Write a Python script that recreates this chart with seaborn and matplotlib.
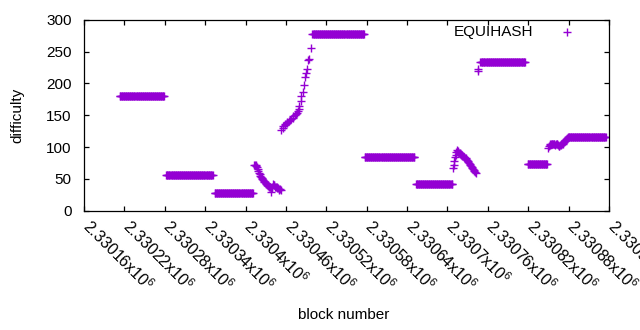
import numpy as np
import pandas as pd
import matplotlib
matplotlib.use("Agg")
import matplotlib.pyplot as plt
from matplotlib.ticker import FixedLocator
import matplotlib.transforms as mtrans
import seaborn as sns

# --- data ---
# plateaus: blocks where difficulty stayed constant
plateau_start = [2330213, 2330282, 2330354, 2330499, 2330577, 2330653, 2330749, 2330819, 2330880]
plateau_end = [2330279, 2330351, 2330411, 2330576, 2330651, 2330707, 2330815, 2330848, 2330935]
plateau_level = [180, 56, 28, 278, 85, 42, 233, 73, 115]

decay_blocks = list(range(2330413, 2330453))
decay_values = [72, 71, 70, 72, 68, 66, 63, 60, 57, 55, 53, 51, 50, 48, 46, 45, 45, 43, 42, 41,
                40, 39, 38, 38, 37, 30, 36, 38, 42, 41, 40, 38, 37, 38, 36, 35, 34, 33, 34, 32]

rise_blocks = [2330453, 2330455, 2330456, 2330458, 2330459, 2330461, 2330462, 2330464, 2330466,
               2330468, 2330470, 2330471, 2330473, 2330475, 2330476, 2330478, 2330479, 2330480,
               2330482, 2330483, 2330485, 2330487, 2330489, 2330490, 2330491, 2330493, 2330494,
               2330497]
rise_values = [127, 130, 133, 135, 136, 138, 140, 141, 142, 144, 146, 148, 150, 152, 153, 156,
               160, 165, 173, 180, 186, 198, 210, 216, 223, 237, 238, 256]

hump_blocks = list(range(2330708, 2330743))
hump_values = [67, 72, 78, 84, 88, 92, 95, 93, 92, 91, 90, 89, 88, 87, 86, 86, 85, 84, 83, 82,
               81, 80, 78, 76, 75, 73, 72, 70, 69, 67, 66, 64, 62, 61, 60]

jump_blocks = [2330745, 2330746]
jump_values = [219, 222]

wiggle_blocks = list(range(2330850, 2330880))
wiggle_values = [99, 101, 103, 104, 105, 104, 105, 104, 105, 104, 103, 104, 105, 104, 103, 102,
                 101, 103, 104, 103, 104, 105, 106, 108, 110, 111, 112, 113, 114, 115]

x_ticks = list(range(2330160, 2330941, 60))
x_tick_labels = ["%gx10$^{6}$" % (t / 1e6) for t in x_ticks]
y_ticks = [0, 50, 100, 150, 200, 250, 300]

# --- assemble table ---
blocks, diffs = [], []
for s, e, lv in zip(plateau_start, plateau_end, plateau_level):
    b = list(range(s, e + 1))
    blocks += b
    diffs += [lv] * len(b)
for bl, vl in [(decay_blocks, decay_values), (rise_blocks, rise_values),
               (hump_blocks, hump_values), (jump_blocks, jump_values),
               (wiggle_blocks, wiggle_values)]:
    blocks += bl
    diffs += vl
df = pd.DataFrame({"block": blocks, "difficulty": diffs}).sort_values("block")

sns.set_style("white")
plt.rcParams["font.family"] = ["Liberation Sans", "DejaVu Sans"]
plt.rcParams["mathtext.fontset"] = "custom"
plt.rcParams["mathtext.rm"] = "Liberation Sans"
plt.rcParams["mathtext.it"] = "Liberation Sans"

fig = plt.figure(figsize=(6.4, 3.3), dpi=100)
ax = fig.add_axes([84 / 640, 1 - 210.7 / 330, 525 / 640, 191 / 330])

color = "#9400D3"
sns.scatterplot(data=df, x="block", y="difficulty", ax=ax, marker="+", s=26,
                color=color, linewidth=1.0, label="EQUIHASH")

ax.set_xlim(x_ticks[0], x_ticks[-1])
ax.set_ylim(y_ticks[0], y_ticks[-1])
ax.yaxis.set_major_locator(FixedLocator(y_ticks))

for sp in ax.spines.values():
    sp.set_color("black")
    sp.set_linewidth(0.9)

ax.tick_params(axis="both", which="major", direction="in", length=3.5, width=0.9,
               color="black", labelcolor="black",
               top=True, right=True, bottom=True, left=True)
ax.tick_params(axis="y", pad=9, labelsize=11)
ax.tick_params(axis="x", pad=12)
ax.set_xticks(x_ticks, labels=x_tick_labels, rotation=-45, rotation_mode="anchor",
              ha="left", va="baseline", fontsize=11.5)
shift = mtrans.ScaledTranslation(-3 / 100, 0, fig.dpi_scale_trans)
for lab in ax.get_xticklabels():
    lab.set_transform(lab.get_transform() + shift)

ax.set_xlabel("block number", fontsize=11, color="black")
ax.set_ylabel("difficulty", fontsize=11, color="black")
ax.xaxis.set_label_coords(0.495, -0.51)
ax.yaxis.set_label_coords(-0.113, 0.5)

leg = ax.legend(loc="center right", bbox_to_anchor=(582.6 / 640, 1 - 31.7 / 330),
                bbox_transform=fig.transFigure, frameon=False, markerfirst=False,
                borderaxespad=0, borderpad=0, handletextpad=1.26, handlelength=2.0,
                fontsize=11)
for t in leg.get_texts():
    t.set_color("black")

fig.savefig("out.png", dpi=100)
